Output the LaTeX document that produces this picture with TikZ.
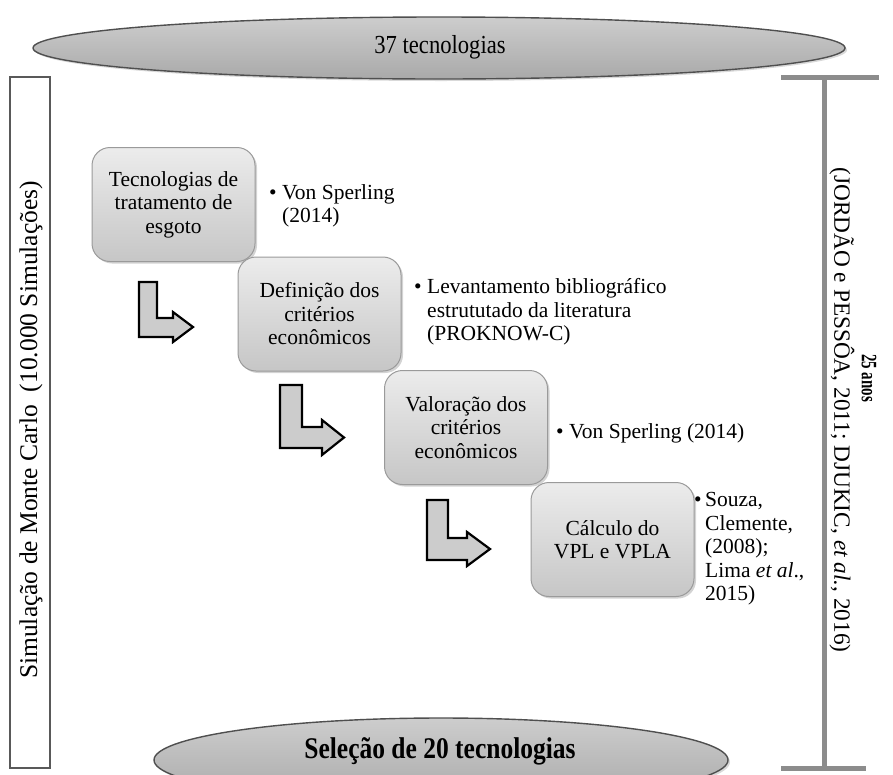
\documentclass[tikz,border=0pt]{standalone}
\usepackage{fontspec}
\setmainfont{Liberation Serif}
\usetikzlibrary{shadows,shapes.geometric}

\definecolor{boxtop}{HTML}{ECECEC}
\definecolor{boxbot}{HTML}{C6C6C6}
\definecolor{boxline}{HTML}{9A9A9A}
\definecolor{elltop}{HTML}{CDCDCD}
\definecolor{ellbot}{HTML}{A9A9A9}
\definecolor{ellline}{HTML}{4F4F4F}
\definecolor{barcol}{HTML}{8C8C8C}
\definecolor{arrowfill}{HTML}{CCCCCC}

\newcommand{\bodyfont}{\fontsize{21.5}{23.5}\selectfont}
\newcommand{\bul}{\makebox[13pt][l]{\textbullet}}
\newcommand{\bulb}{\makebox[11pt][l]{\textbullet}}

\tikzset{
  stage/.style={rounded corners=18pt, draw=boxline, line width=1pt,
    top color=boxtop, bottom color=boxbot,
    minimum width=163pt, minimum height=114pt, align=center,
    font=\bodyfont, inner sep=2pt,
    drop shadow={opacity=0.35, shadow xshift=2pt, shadow yshift=-2pt}},
  refnote/.style={anchor=west, align=left, font=\bodyfont, inner sep=0pt},
  pool/.style={ellipse, draw=ellline, line width=1.4pt,
    top color=elltop, bottom color=ellbot, inner sep=0pt,
    drop shadow={opacity=0.3, shadow xshift=2pt, shadow yshift=-2pt}},
  bentarrow/.style={draw=black, line width=2.2pt, fill=arrowfill,
    line join=miter},
  timebar/.style={draw=barcol, line width=5pt},
}

\begin{document}
\begin{tikzpicture}[x=1pt, y=-1pt]
  \useasboundingbox (0,0) rectangle (893,774);

  % input and output pools
  \node[pool, minimum width=812pt, minimum height=62pt] (top) at (439,48) {};
  \node[font=\fontsize{26}{28}\selectfont] (toptxt) at (440,47)
    {\scalebox{0.87}[1]{37 tecnologias}};
  \node[pool, minimum width=574pt, minimum height=84pt] (bottom) at (441,760) {};
  \node[font=\fontsize{30}{32}\selectfont\bfseries] (bottxt) at (440,751)
    {\scalebox{0.85}[1]{Seleção de 20 tecnologias}};

  % Monte Carlo frame on the left
  \draw[draw=black!65, line width=1.4pt] (10,77) rectangle (50,768);
  \node[rotate=90, font=\fontsize{25.5}{27}\selectfont] (mc) at (31,430)
    {Simulação de Monte Carlo\ \ (10.000 Simulações)};

  % horizon bar on the right
  \coordinate (bt1) at (781,77);  \coordinate (bt2) at (879,77);
  \coordinate (bb1) at (781,768); \coordinate (bb2) at (866,768);
  \coordinate (bvt) at (824,77);  \coordinate (bvb) at (824,768);
  \draw[timebar] (bt1) -- (bt2);
  \draw[timebar] (bb1) -- (bb2);
  \draw[timebar] (bvt) -- (bvb);
  \node[rotate=-90, font=\fontsize{23.3}{25}\selectfont] (hz) at (842,410)
    {(JORDÃO e PESSÔA, 2011; DJUKIC, \textit{et al.}, 2016)};
  \node[rotate=-90, font=\fontsize{22}{24}\selectfont\bfseries] (yrs) at (869,378)
    {\scalebox{0.68}[1]{25 anos}};

  % stages
  \node[stage] (s1) at (173.5,204.5) {Tecnologias de\\tratamento de\\esgoto};
  \node[stage] (s2) at (319.5,314) {Definição dos\\critérios\\econômicos};
  \node[stage] (s3) at (466,427.5) {Valoração dos\\critérios\\econômicos};
  \node[stage] (s4) at (612.5,539.5) {Cálculo do\\VPL e VPLA};

  % references
  \node[refnote] (r1) at (269,206)
    {\bul Von Sperling\\\hphantom{\bul}(2014)};
  \node[refnote] (r2) at (414,312)
    {\bul Levantamento bibliográfico\\\hphantom{\bul}estrututado da literatura\\\hphantom{\bul}(PROKNOW-C)};
  \node[refnote] (r3) at (556,433)
    {\bul Von Sperling (2014)};
  \node[refnote] (r4) at (694,549)
    {\bulb Souza,\\\hphantom{\bulb}Clemente,\\\hphantom{\bulb}(2008);\\\hphantom{\bulb}Lima \textit{et al}.,\\\hphantom{\bulb}2015)};

  % bent arrows between stages
  \draw[bentarrow] (139,282) -- (157,282) -- (157,318) -- (173,318) -- (173,312)
    -- (193,327) -- (173,342) -- (173,337) -- (139,337) -- cycle;
  \draw[bentarrow] (280,385) -- (302,385) -- (302,427) -- (322,427) -- (322,420)
    -- (344,437.5) -- (322,455) -- (322,448) -- (280,448) -- cycle;
  \draw[bentarrow] (427,500) -- (448,500) -- (448,538) -- (467,538) -- (467,532)
    -- (490,549) -- (467,566) -- (467,560) -- (427,560) -- cycle;
\end{tikzpicture}
\end{document}
